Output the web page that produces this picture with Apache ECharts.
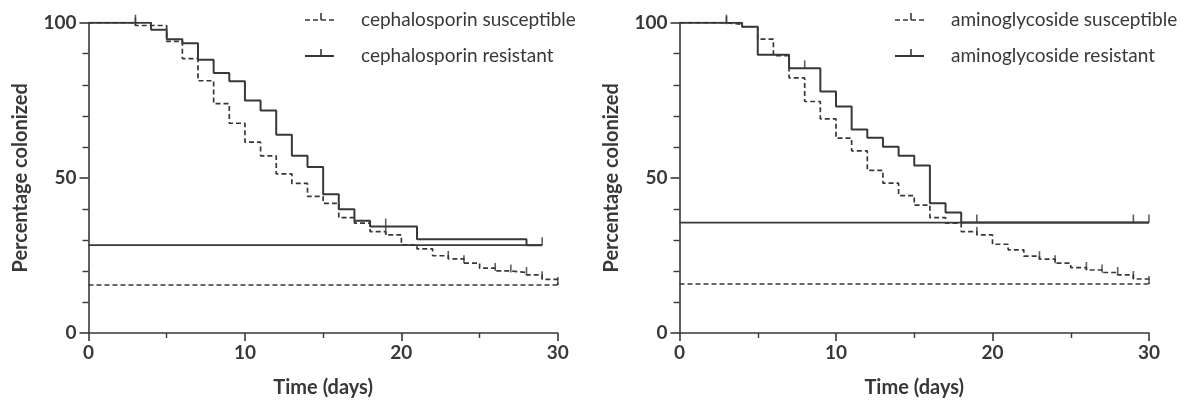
<!DOCTYPE html>
<html>
<head>
<meta charset="utf-8">
<script src="https://cdn.jsdelivr.net/npm/echarts@6/dist/echarts.min.js"></script>
<style>
  html, body { margin: 0; padding: 0; background: #fff; }
  #chart { width: 1192px; height: 403px; }
</style>
</head>
<body>
<div id="chart"></div>
<script>
// Kaplan-Meier style colonization curves: each pair of arrays gives the day a step
// occurs and the percentage still colonized from that day onward.

// Cephalosporin susceptible
const cephSuscDays = [0, 3, 5, 6, 7, 8, 9, 10, 11, 12, 13, 14, 15, 16, 17, 18, 19, 20, 21, 22, 23, 24, 25, 26, 27, 28, 29, 30];
const cephSuscPct  = [100, 99.1, 94.0, 88.4, 81.3, 73.9, 67.6, 61.5, 57.1, 51.3, 48.2, 44.0, 41.8, 37.2, 35.4, 32.7, 31.6, 28.4, 27.1, 24.9, 23.9, 22.5, 20.9, 20.0, 19.5, 18.7, 17.3, 15.5];
const cephSuscCensor = [3, 19, 23, 24, 26, 27, 28, 29, 30];
const cephSuscEnd = 30;

// Cephalosporin resistant
const cephResDays = [0, 4, 5, 6, 7, 8, 9, 10, 11, 12, 13, 14, 15, 16, 17, 18, 21, 28];
const cephResPct  = [100, 97.7, 94.7, 93.4, 88.1, 83.8, 81.1, 74.9, 71.7, 63.9, 57.1, 53.5, 44.7, 39.9, 36.2, 34.3, 30.2, 28.3];
const cephResCensor = [3, 19, 29];
const cephResEnd = 29;

// Aminoglycoside susceptible
const aminoSuscDays = [0, 3, 4, 5, 6, 7, 8, 9, 10, 11, 12, 13, 14, 15, 16, 17, 18, 19, 20, 21, 22, 23, 24, 25, 26, 27, 28, 29, 30];
const aminoSuscPct  = [100, 99.5, 98.7, 94.7, 89.4, 82.2, 74.6, 69.0, 62.8, 58.7, 52.4, 48.3, 44.3, 41.2, 37.2, 35.4, 32.7, 31.6, 28.6, 26.8, 24.8, 23.8, 22.5, 21.1, 20.3, 19.5, 18.7, 17.4, 15.8];
const aminoSuscCensor = [3, 19, 23, 24, 26, 27, 28, 29, 30];
const aminoSuscEnd = 30;

// Aminoglycoside resistant
const aminoResDays = [0, 4, 5, 7, 9, 10, 11, 12, 13, 14, 15, 16, 17, 18];
const aminoResPct  = [100, 98.7, 89.7, 85.3, 77.8, 73.0, 65.6, 62.9, 60.0, 57.1, 54.0, 41.8, 38.8, 35.6];
const aminoResCensor = [3, 8, 19, 29, 30];
const aminoResEnd = 30;

// Legend labels
const leftLabels  = ['cephalosporin susceptible', 'cephalosporin resistant'];
const rightLabels = ['aminoglycoside susceptible', 'aminoglycoside resistant'];

const INK = '#383838';
const FONT = 'Lato, "Open Sans", sans-serif';
const DASH = [5, 3];

// Corner points of a step curve that holds each value until the next change.
function stepPoints(days, pct, endDay) {
  const pts = [[days[0], pct[0]]];
  for (let i = 1; i < days.length; i++) {
    pts.push([days[i], pct[i - 1]]);
    pts.push([days[i], pct[i]]);
  }
  const last = days[days.length - 1];
  if (endDay > last) pts.push([endDay, pct[pct.length - 1]]);
  return pts;
}
function levelAt(days, pct, t) {
  let v = pct[0];
  for (let i = 0; i < days.length; i++) if (days[i] <= t) v = pct[i];
  return v;
}

function curveSeries(idx, days, pct, endDay, censor, dashed) {
  const style = { color: INK, width: dashed ? 1.7 : 2, type: dashed ? DASH : 'solid' };
  const finalPct = pct[pct.length - 1];
  return [
    {
      type: 'line', xAxisIndex: idx, yAxisIndex: idx, showSymbol: false, silent: true,
      lineStyle: style, data: stepPoints(days, pct, endDay), z: dashed ? 2 : 3
    },
    {
      // baseline at the final level, back to day 0
      type: 'line', xAxisIndex: idx, yAxisIndex: idx, showSymbol: false, silent: true,
      lineStyle: Object.assign({}, style, { width: dashed ? 1.5 : 1.7 }),
      data: [[0, finalPct], [endDay, finalPct]], z: 2
    },
    {
      // censoring marks
      type: 'scatter', xAxisIndex: idx, yAxisIndex: idx, silent: true,
      symbol: 'rect', symbolSize: [1.6, 8], symbolOffset: [0, -4],
      itemStyle: { color: INK },
      data: censor.map(t => [t, levelAt(days, pct, t)]), z: 4
    }
  ];
}

function xAxisCfg(idx) {
  return {
    type: 'value', gridIndex: idx, min: 0, max: 30, interval: 10,
    name: 'Time (days)', nameLocation: 'middle', nameGap: 45,
    nameTextStyle: { fontFamily: FONT, fontWeight: 'bold', fontSize: 20, color: INK },
    axisLine: { show: true, lineStyle: { color: INK, width: 1.6 } },
    axisTick: { show: true, length: 8, lineStyle: { color: INK, width: 1.6 } },
    minorTick: { show: true, splitNumber: 2, length: 5, lineStyle: { color: INK, width: 1.4 } },
    splitLine: { show: false },
    axisLabel: { fontFamily: FONT, fontWeight: 'bold', fontSize: 19, color: INK, margin: 10 }
  };
}
function yAxisCfg(idx) {
  return {
    type: 'value', gridIndex: idx, min: 0, max: 100, interval: 50,
    name: 'Percentage colonized', nameLocation: 'middle', nameGap: 58, nameRotate: 90,
    nameTextStyle: { fontFamily: FONT, fontWeight: 'bold', fontSize: 20, color: INK },
    axisLine: { show: true, lineStyle: { color: INK, width: 1.6 } },
    axisTick: { show: true, length: 9, lineStyle: { color: INK, width: 1.6 } },
    minorTick: { show: true, splitNumber: 5, length: 6, lineStyle: { color: INK, width: 1.4 } },
    splitLine: { show: false },
    axisLabel: { fontFamily: FONT, fontWeight: 'bold', fontSize: 19, color: INK, margin: 12 }
  };
}

// Legend: sample line with censor mark plus label
function legendItems(x0, labels) {
  const rows = [20, 56];
  const out = [];
  rows.forEach((y, i) => {
    const dashed = i === 0;
    out.push({
      type: 'line', shape: { x1: x0, y1: y, x2: x0 + 29, y2: y },
      style: { stroke: INK, lineWidth: dashed ? 1.7 : 2, lineDash: dashed ? DASH : null }
    });
    out.push({
      type: 'line', shape: { x1: x0 + 16, y1: y - 7, x2: x0 + 16, y2: y },
      style: { stroke: INK, lineWidth: 1.6 }
    });
    out.push({
      type: 'text', x: x0 + 56, y: y,
      style: { text: labels[i], font: '19px ' + FONT, fill: INK, textVerticalAlign: 'middle', verticalAlign: 'middle' }
    });
  });
  return out;
}

const chart = echarts.init(document.getElementById('chart'), null, { renderer: 'canvas' });
chart.setOption({
  animation: false,
  backgroundColor: '#fff',
  grid: [
    { left: 88.5, top: 22.7, width: 469.3, height: 310.6 },
    { left: 679.5, top: 22.7, width: 469.5, height: 310.6 }
  ],
  xAxis: [xAxisCfg(0), xAxisCfg(1)],
  yAxis: [yAxisCfg(0), yAxisCfg(1)],
  series: [].concat(
    curveSeries(0, cephSuscDays, cephSuscPct, cephSuscEnd, cephSuscCensor, true),
    curveSeries(0, cephResDays, cephResPct, cephResEnd, cephResCensor, false),
    curveSeries(1, aminoSuscDays, aminoSuscPct, aminoSuscEnd, aminoSuscCensor, true),
    curveSeries(1, aminoResDays, aminoResPct, aminoResEnd, aminoResCensor, false)
  ),
  graphic: legendItems(305, leftLabels).concat(legendItems(895, rightLabels))
});
</script>
</body>
</html>
